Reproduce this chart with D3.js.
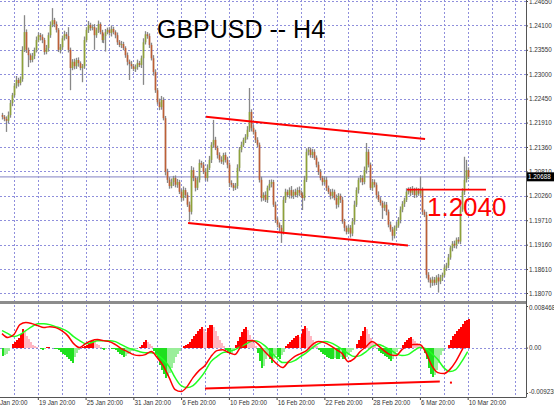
<!DOCTYPE html>
<html><head><meta charset="utf-8">
<script src="https://cdn.jsdelivr.net/npm/d3@7"></script>
<style>
html,body{margin:0;padding:0;background:#fff;}
svg{display:block;font-family:"Liberation Sans",Arial,sans-serif;}
</style></head>
<body><svg id="c" width="554" height="407"></svg>
<script>
// ---------- DATA ----------
const title = "GBPUSD -- H4";
const firstOpen = 1.2208;
const closes = [
1.2204,1.2199,1.2195,1.2208,1.2235,1.2253,1.2274,1.2287,1.2280,1.2289,
1.2355,1.2395,1.2355,1.2343,1.2332,1.2341,1.2355,1.2377,1.2388,1.2384,
1.2377,1.2350,1.2359,1.2388,1.2411,1.2422,1.2413,1.2400,1.2355,1.2361,
1.2381,1.2390,1.2386,1.2355,1.2314,1.2328,1.2318,1.2332,1.2325,1.2314,
1.2318,1.2377,1.2400,1.2411,1.2404,1.2406,1.2388,1.2400,1.2413,1.2395,
1.2377,1.2386,1.2395,1.2400,1.2393,1.2402,1.2395,1.2388,1.2372,1.2366,
1.2368,1.2359,1.2343,1.2328,1.2323,1.2318,1.2312,1.2316,1.2325,1.2321,
1.2336,1.2372,1.2390,1.2386,1.2366,1.2336,1.2305,1.2264,1.2237,1.2226,
1.2242,1.2201,1.2080,1.2062,1.2048,1.2057,1.2066,1.2051,1.2057,1.2035,
1.2021,1.2039,1.2028,1.2006,1.1990,1.2084,1.2066,1.2044,1.2062,1.2100,
1.2096,1.2080,1.2066,1.2089,1.2107,1.2141,1.2152,1.2134,1.2118,1.2107,
1.2103,1.2118,1.2107,1.2096,1.2055,1.2051,1.2044,1.2048,1.2089,1.2130,
1.2141,1.2152,1.2159,1.2175,1.2215,1.2179,1.2170,1.2152,1.2141,1.2062,
1.2021,1.2028,1.2017,1.2044,1.2053,1.2057,1.2006,1.1972,1.1961,1.1954,
1.1945,1.2017,1.2035,1.2028,1.2039,1.2026,1.2035,1.2028,1.2039,1.2033,
1.2028,1.2021,1.2062,1.2125,1.2130,1.2118,1.2125,1.2112,1.2096,1.2080,
1.2066,1.2057,1.2062,1.2044,1.2035,1.2026,1.2035,1.2021,1.2006,1.2026,
1.2017,1.1968,1.1954,1.1945,1.1954,1.1941,1.1968,1.2006,1.2039,1.2062,
1.2066,1.2057,1.2084,1.2125,1.2096,1.2044,1.2057,1.2051,1.2028,1.2017,
1.2010,1.1999,1.2006,1.1990,1.1961,1.1950,1.1936,1.1954,1.1959,1.1972,
1.1995,1.2008,1.2017,1.2035,1.2039,1.2033,1.2039,1.2028,1.2037,1.2031,
1.2039,1.1990,1.1983,1.1848,1.1837,1.1830,1.1837,1.1830,1.1842,1.1833,
1.1842,1.1848,1.1864,1.1869,1.1887,1.1909,1.1918,1.1914,1.1927,1.1923,
1.1995,1.2035,1.2062,1.2084,1.20688];
// wick lengths in pips above / below the body
const upWick = [
5,4,6,8,7,5,6,9,5,6, 8,38,6,5,4,7,5,8,6,5, 6,5,7,6,8,27,5,6,4,7, 6,8,5,20,5,6,7,5,6,4,
5,8,6,9,5,6,7,5,8,4, 5,6,7,5,6,8,5,4,6,5, 7,5,4,6,5,7,5,6,8,5, 6,9,7,5,6,5,7,6,5,8,
9,6,5,7,6,8,5,6,7,5, 6,8,5,6,7,9,6,5,7,8, 5,6,7,8,9,6,45,7,5,6, 8,5,6,7,5,6,4,7,8,6,
7,5,6,8,54,6,7,5,6,5, 7,6,8,5,9,6,5,7,6,5, 6,8,7,5,6,9,5,7,6,8, 5,6,9,8,6,5,7,6,5,7,
6,5,8,7,5,6,7,5,8,6, 5,7,6,5,7,6,8,9,6,5, 7,6,8,20,6,5,7,6,5,8, 6,5,7,6,5,7,6,5,8,6,
7,6,5,8,6,7,9,5,8,6, 30,6,5,7,6,5,7,6,5,8, 6,5,7,6,8,5,6,7,5,6, 9,8,52,23,6];
const downWick = [
6,5,25,5,6,7,5,6,8,5, 6,5,7,27,6,5,7,6,5,8, 7,6,5,8,6,5,7,6,5,8, 6,5,7,6,50,5,7,6,8,5,
32,6,5,7,6,5,33,6,7,5, 6,7,35,5,6,8,5,7,6,5, 7,5,6,8,36,6,5,7,6,5, 7,60,5,6,7,5,8,6,5,7,
6,5,8,7,6,5,9,6,7,5, 8,6,7,5,22,6,7,8,5,6, 7,5,6,8,5,7,6,5,8,6, 5,7,6,8,9,6,7,5,6,8,
6,5,7,6,5,8,6,7,5,6, 8,6,5,7,6,8,5,7,6,9, 25,6,7,5,8,6,7,5,6,8, 7,27,6,5,8,6,7,5,6,7,
5,8,6,7,5,8,6,5,9,6, 7,5,8,6,5,9,6,7,5,8, 6,7,5,8,6,5,7,6,8,5, 6,25,7,8,6,5,11,6,7,5,
8,6,7,5,6,8,5,7,6,5, 6,7,5,8,6,11,7,6,5,25, 6,8,5,7,6,5,8,6,7,5, 6,5,7,6,5];
const currentPrice = 1.20688;
const priceTicks = [1.24650,1.24100,1.23550,1.23000,1.22450,1.21910,1.21360,1.20810,1.20260,1.19710,1.19160,1.18610,1.18070];
const dateTickBars = [-6,18,42,66,90,114,138,162,186,210,234];
const dateLabels = ["13 Jan 20:00","19 Jan 20:00","25 Jan 20:00","31 Jan 20:00","6 Feb 20:00","10 Feb 20:00","16 Feb 20:00","22 Feb 20:00","28 Feb 20:00","6 Mar 20:00","10 Mar 20:00"];
// indicator: histogram for every bar, lines sampled every 3 bars
const histogram = [
-0.0018,-0.0016,-0.0012,-0.0006,0,0.0008,0.0012,0.0016,0.0020,0.0028,
0.0037,0.0031,0.0024,0.0018,0.0012,0.0006,0.0004,0.0002,0,-0.0002,
-0.0004,-0.0002,0.0002,0.0002,0,0,-0.0002,-0.0002,-0.0004,-0.0008,
-0.0012,-0.0016,-0.0020,-0.0024,-0.0028,-0.0031,-0.0020,-0.0010,-0.0004,0,
0.0002,0.0004,0.0006,0.0010,0.0014,0.0016,0.0012,0.0008,0.0006,0.0002,
-0.0002,-0.0004,-0.0002,0,0,-0.0002,-0.0002,-0.0004,-0.0008,-0.0012,
-0.0016,-0.0020,-0.0018,-0.0014,-0.0010,-0.0006,-0.0004,-0.0002,0,0.0002,
0.0006,0.0012,0.0016,0.0012,0.0008,0.0004,-0.0006,-0.0014,-0.0024,-0.0035,
-0.0045,-0.0053,-0.0061,-0.0057,-0.0051,-0.0041,-0.0031,-0.0020,-0.0012,-0.0006,
0,0.0004,0.0006,0.0008,0.0012,0.0018,0.0024,0.0028,0.0033,0.0037,
0.0041,0.0037,0.0031,0.0039,0.0045,0.0047,0.0041,0.0033,0.0024,0.0016,
0.0010,0.0004,-0.0004,-0.0010,-0.0014,-0.0012,-0.0006,0.0006,0.0014,0.0022,
0.0031,0.0037,0.0041,0.0035,0.0026,0.0018,0.0010,0.0004,-0.0010,-0.0028,
-0.0041,-0.0037,-0.0024,-0.0016,-0.0024,-0.0031,-0.0024,-0.0016,-0.0020,-0.0024,
-0.0016,-0.0008,0.0004,0.0008,0.0012,0.0016,0.0020,0.0024,0.0026,0.0022,
0.0028,0.0037,0.0043,0.0039,0.0033,0.0024,0.0016,0.0010,0.0004,-0.0004,
-0.0008,-0.0012,-0.0016,-0.0020,-0.0022,-0.0024,-0.0024,-0.0022,-0.0024,-0.0024,
-0.0020,-0.0024,-0.0024,-0.0020,-0.0016,-0.0008,-0.0004,0,0.0008,0.0016,
0.0024,0.0033,0.0041,0.0037,0.0028,0.0020,0.0012,0.0006,0,-0.0006,
-0.0010,-0.0014,-0.0018,-0.0020,-0.0024,-0.0028,-0.0024,-0.0016,-0.0008,-0.0002,
0,0.0006,0.0012,0.0016,0.0020,0.0022,0.0018,0.0014,0.0010,0.0006,
0.0004,0.0002,-0.0010,-0.0024,-0.0041,-0.0053,-0.0059,-0.0055,-0.0045,-0.0031,
-0.0016,-0.0006,0,0,0.0006,0.0016,0.0024,0.0028,0.0033,0.0037,
0.0041,0.0049,0.0055,0.0057,0.0059];
const lineStep = 3;
const macdMain = [
0.00285,0.00204,0.00265,0.00468,0.00509,0.00488,0.00448,0.00407,0.00427,0.00407,
0.00346,0.00244,0.00081,0,0.00081,0.00142,0.00163,0.00142,0.00122,0.00061,
-0.0002,-0.00081,-0.00142,-0.00163,-0.00142,-0.00081,-0.00204,-0.00366,-0.00611,-0.00855,
-0.00895,-0.00794,-0.00611,-0.00468,-0.00366,-0.00183,-0.00061,-0.00041,-0.00102,-0.00142,
0.0002,0.00142,0.00142,0.00061,-0.00081,-0.00204,-0.00326,-0.00407,-0.00285,-0.00183,
-0.00122,-0.00061,0.00061,0.00122,0.00102,0.00041,-0.00041,-0.00122,-0.00285,-0.00224,
-0.00081,0.0002,0.00122,0.00041,-0.00061,-0.00142,-0.00163,-0.00041,0.00041,0.00061,
0.00061,-0.00102,-0.00366,-0.00509,-0.00529,-0.00448,-0.00285,-0.00061,0.00163];
const macdSignal = [
0.00346,0.00285,0.00224,0.00265,0.00346,0.00427,0.00488,0.00488,0.00468,0.00427,
0.00387,0.00326,0.00224,0.00142,0.00081,0.00102,0.00142,0.00142,0.00142,0.00122,
0.00061,0,-0.00041,-0.00081,-0.00102,-0.00102,-0.00142,-0.00244,-0.00387,-0.00611,
-0.00773,-0.00814,-0.00773,-0.00651,-0.00488,-0.00285,-0.00183,-0.00102,-0.00081,-0.00041,
0.0002,0.00081,0.00142,0.00122,0.00041,-0.00081,-0.00204,-0.00305,-0.00305,-0.00265,
-0.00183,-0.00102,0,0.00081,0.00122,0.00102,0.00041,-0.00041,-0.00122,-0.00183,
-0.00163,-0.00081,0.0002,0.00061,0.0002,-0.00041,-0.00122,-0.00163,-0.00142,-0.00061,
0,-0.0002,-0.00122,-0.00244,-0.00407,-0.00488,-0.00448,-0.00285,-0.00081];
const indTicks = [0.008468, 0, -0.009236];
const indTickLabels = ["0.008468","0.00","-0.009236"];
// drawn objects (bar index, value)
const channelUpper = [[102.5,1.2204],[212.6,1.2154]];
const channelLower = [[93.5,1.1965],[204,1.1914]];
const levelLine = [[203.5,1.2040],[243.2,1.2040]];
const levelText = "1.2040";
const macdTrend = [[102,-0.00834],[220,-0.00692]];
const macdDot = [225.6,-0.00712];

// ---------- DRAW ----------
const svg = d3.select("#c");
const plotR = 526, mainTop = 0, mainBot = 301, indTop = 305, indBot = 397;
const x = d3.scaleLinear().domain([0,1]).range([2,3.99]);
const y = d3.scaleLinear().domain([1.2465,1.1807]).range([1,293]);
const yi = d3.scaleLinear().domain([0.008468,-0.009236]).range([306,393]);
const gridCol = "#8f8fdc";
const histColor = {upPos:"#ff0000", downPos:"#ffb6c1", downNeg:"#1fe01f", upNeg:"#9aee9a"};

svg.append("rect").attr("width",554).attr("height",407).attr("fill","#fff");

// vertical grid
const vGrid = d3.range(6, 260, 12);
const gridG = svg.append("g").attr("stroke",gridCol).attr("stroke-width",1).attr("stroke-dasharray","2,2");
vGrid.forEach(b=>{
  const xx = Math.round(x(b))+0.5;
  gridG.append("line").attr("x1",xx).attr("x2",xx).attr("y1",mainTop).attr("y2",mainBot);
  gridG.append("line").attr("x1",xx).attr("x2",xx).attr("y1",indTop).attr("y2",indBot);
});
priceTicks.forEach(p=>{
  const yy = Math.round(y(p))+0.5;
  gridG.append("line").attr("x1",0).attr("x2",plotR).attr("y1",yy).attr("y2",yy);
});
gridG.append("line").attr("x1",0).attr("x2",plotR).attr("y1",Math.round(yi(0))+0.5).attr("y2",Math.round(yi(0))+0.5);

// current price line
svg.append("line").attr("x1",0).attr("x2",plotR).attr("y1",y(currentPrice)).attr("y2",y(currentPrice))
  .attr("stroke","#9c9cd0").attr("stroke-width",1.3);

// candles
const candles = closes.map((c,i)=>{
  const o = i===0 ? firstOpen : closes[i-1];
  return {i,o,c,h:Math.max(o,c)+upWick[i]/10000,l:Math.min(o,c)-downWick[i]/10000};
});
const cg = svg.append("g").attr("class","candles");
cg.selectAll("line").data(candles).join("line")
  .attr("x1",d=>Math.round(x(d.i))+0.5).attr("x2",d=>Math.round(x(d.i))+0.5)
  .attr("y1",d=>y(d.h)).attr("y2",d=>y(d.l)).attr("stroke","#888").attr("stroke-width",1.3);
cg.selectAll("rect").data(candles).join("rect")
  .attr("x",d=>Math.round(x(d.i))-0.3).attr("width",1.6)
  .attr("y",d=>y(Math.max(d.o,d.c))).attr("height",d=>Math.max(1,Math.abs(y(d.o)-y(d.c))))
  .attr("fill",d=>d.c>=d.o?"#8ea23a":"#bd5f36");

// trend lines
const tl = (pts,sy,w)=>svg.append("line").attr("x1",x(pts[0][0])).attr("y1",sy(pts[0][1]))
  .attr("x2",x(pts[1][0])).attr("y2",sy(pts[1][1])).attr("stroke","#ff0000").attr("stroke-width",w);
tl(channelUpper,y,2); tl(channelLower,y,2); tl(levelLine,y,1.6);
svg.append("text").attr("x",x(levelLine[0][0])+20).attr("y",y(1.2040)+26)
  .attr("font-size",26).attr("fill","#ff0000").text(levelText);

// title
svg.append("text").attr("x",157).attr("y",38).attr("font-size",25).attr("fill","#000").text(title);

// panel separator
svg.append("rect").attr("x",0).attr("y",301).attr("width",plotR).attr("height",3).attr("fill","#8c8c8c");

// histogram
const hist = histogram.map((v,i)=>{
  const p = i>0 ? histogram[i-1] : v;
  const kind = v>=0 ? (v>=p?"upPos":"downPos") : (v<=p?"downNeg":"upNeg");
  return {i,v,kind};
});
const hg = svg.append("g").attr("class","hist").attr("shape-rendering","crispEdges");
hg.selectAll("rect").data(hist).join("rect")
  .attr("x",d=>Math.round(x(d.i))-0.5).attr("width",2)
  .attr("y",d=>Math.min(yi(0),yi(d.v))).attr("height",d=>Math.abs(yi(d.v)-yi(0)))
  .style("fill",d=>histColor[d.kind]);

// lines
const ln = d3.line().x((d,i)=>x(i*lineStep)).y(d=>yi(d)).curve(d3.curveMonotoneX);
svg.append("path").attr("d",ln(macdSignal)).attr("fill","none").attr("stroke","#22ff22").attr("stroke-width",1.5);
svg.append("path").attr("d",ln(macdMain)).attr("fill","none").attr("stroke","#ff0000").attr("stroke-width",1.5);
tl(macdTrend,yi,2);
svg.append("rect").attr("x",x(macdDot[0])-1).attr("y",yi(macdDot[1])-1).attr("width",2).attr("height",2).attr("fill","#ff0000");

// axes
const fs = 6.3;
const ay = svg.append("g").attr("transform",`translate(${plotR},0)`)
  .call(d3.axisRight(y).tickValues(priceTicks).tickFormat(d3.format(".5f")).tickSize(2).tickPadding(1));
const ai = svg.append("g").attr("transform",`translate(${plotR},0)`)
  .call(d3.axisRight(yi).tickValues(indTicks).tickFormat((d,i)=>indTickLabels[i]).tickSize(2).tickPadding(1));
[ay,ai].forEach(a=>{a.select(".domain").remove(); a.selectAll("text").attr("font-size",fs).attr("fill","#333").attr("font-family","Liberation Sans, Arial"); a.selectAll("line").attr("stroke","#444");});
ai.selectAll(".tick text").attr("dy",(d,i)=>i===0?"0.6em":(i===2?"0.1em":"0.32em"));
const ax = svg.append("g").attr("transform",`translate(0,${indBot})`)
  .call(d3.axisBottom(x).tickValues(dateTickBars).tickFormat((d,i)=>dateLabels[i]).tickSize(3).tickPadding(1));
ax.select(".domain").remove();
ax.selectAll("text").attr("font-size",fs).attr("fill","#333").attr("text-anchor","start").attr("dx","0.1em").attr("font-family","Liberation Sans, Arial");
ax.selectAll("line").attr("stroke","#444");

// frame
svg.append("line").attr("x1",plotR+0.5).attr("x2",plotR+0.5).attr("y1",0).attr("y2",indBot).attr("stroke","#555");
svg.append("line").attr("x1",0).attr("x2",plotR+0.5).attr("y1",indBot+0.5).attr("y2",indBot+0.5).attr("stroke","#555");

// current price tag
const cy = y(currentPrice);
svg.append("rect").attr("x",plotR+1).attr("y",cy-4.5).attr("width",27).attr("height",9).attr("fill","#000");
svg.append("text").attr("x",plotR+2).attr("y",cy+2.3).attr("font-size",fs).attr("fill","#fff").text(d3.format(".5f")(currentPrice));
</script></body></html>
